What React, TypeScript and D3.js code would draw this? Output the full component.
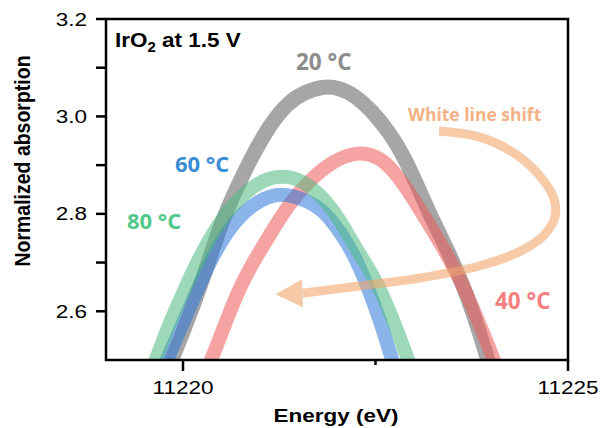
import React from "react";
import * as d3 from "d3";

// ---- axis configuration (data units) ----
const xDomain: [number, number] = [11219, 11225];
const yDomain: [number, number] = [2.5, 3.2];
const xMajorTicks = [11220, 11225];
const xMinorTicks = [11222.5];
const yMajorTicks = [2.6, 2.8, 3.0, 3.2];
const yMinorTicks = [2.7, 2.9, 3.1];

// ---- series (energy in eV, normalized absorption) ----
const energy20 = [11219.764, 11219.855, 11220.036, 11220.192, 11220.347, 11220.503, 11220.684, 11220.891, 11221.124, 11221.358, 11221.578, 11221.811, 11222.031, 11222.225, 11222.446, 11222.679, 11222.873, 11223.041, 11223.197, 11223.391, 11223.598, 11223.78, 11223.948, 11224.013];
const abs20 = [2.469, 2.5, 2.572, 2.637, 2.709, 2.783, 2.849, 2.917, 2.982, 3.028, 3.05, 3.062, 3.059, 3.044, 3.013, 2.968, 2.917, 2.859, 2.802, 2.74, 2.67, 2.592, 2.506, 2.469];

const energy40 = [11220.269, 11220.386, 11220.554, 11220.749, 11220.943, 11221.15, 11221.383, 11221.642, 11221.94, 11222.251, 11222.523, 11222.705, 11222.873, 11223.041, 11223.223, 11223.417, 11223.624, 11223.819, 11224.026, 11224.104];
const abs40 = [2.469, 2.506, 2.578, 2.654, 2.709, 2.763, 2.822, 2.869, 2.908, 2.928, 2.919, 2.894, 2.859, 2.818, 2.771, 2.72, 2.658, 2.586, 2.506, 2.469];

const energy60 = [11219.699, 11219.79, 11219.959, 11220.166, 11220.36, 11220.567, 11220.788, 11221.008, 11221.215, 11221.422, 11221.617, 11221.798, 11221.966, 11222.135, 11222.264, 11222.381, 11222.549, 11222.705, 11222.782];
const abs60 = [2.469, 2.5, 2.561, 2.637, 2.705, 2.763, 2.804, 2.829, 2.841, 2.838, 2.826, 2.81, 2.779, 2.74, 2.701, 2.658, 2.586, 2.506, 2.469];

const energy80 = [11219.57, 11219.648, 11219.803, 11219.997, 11220.205, 11220.425, 11220.671, 11220.93, 11221.189, 11221.448, 11221.668, 11221.85, 11222.031, 11222.199, 11222.368, 11222.536, 11222.731, 11222.912, 11222.99];
const abs80 = [2.469, 2.5, 2.568, 2.637, 2.709, 2.771, 2.824, 2.86, 2.878, 2.876, 2.855, 2.828, 2.789, 2.742, 2.699, 2.654, 2.582, 2.506, 2.469];

const seriesNames = ["20 °C", "40 °C", "60 °C", "80 °C"];

// ---- "White line shift" arrow path (data units) ----
const arrowEnergy = [11223.326, 11223.845, 11224.298, 11224.622, 11224.816, 11224.829, 11224.687, 11224.363, 11223.845, 11223.067, 11222.29, 11221.552];
const arrowAbs = [2.97, 2.958, 2.925, 2.88, 2.832, 2.793, 2.756, 2.722, 2.693, 2.668, 2.652, 2.637];
const arrowTip = [11221.202, 2.635];

const W = 600;
const H = 428;
const L = 106, R = 568, T = 19, B = 360;

const AXIS_FONT = "'Liberation Sans', Arial, sans-serif";
const LABEL_FONT = "'Open Sans', 'Noto Sans', sans-serif";

function zip(a: number[], b: number[]): [number, number][] {
  return a.map((v, i) => [v, b[i]] as [number, number]);
}

function SText(props: { x: number; y: number; sx?: number; anchor?: string; size: number; weight?: any; fill?: string; family?: string; children: any }) {
  const { x, y, sx = 1, anchor = "start", size, weight = "normal", fill = "#000", family = AXIS_FONT, children } = props;
  return (
    <text transform={`translate(${x},${y}) scale(${sx},1)`} textAnchor={anchor as any} fontSize={size} fontWeight={weight} fill={fill} fontFamily={family}>
      {children}
    </text>
  );
}

export default function App() {
  const x = d3.scaleLinear().domain(xDomain).range([L, R]);
  const y = d3.scaleLinear().domain(yDomain).range([B, T]);
  const line = d3
    .line<[number, number]>()
    .x((d) => x(d[0]))
    .y((d) => y(d[1]))
    .curve(d3.curveBasis);
  const arrowLine = d3
    .line<[number, number]>()
    .x((d) => x(d[0]))
    .y((d) => y(d[1]))
    .curve(d3.curveCatmullRom.alpha(0.5));

  const bands = [
    { name: seriesNames[0], data: zip(energy20, abs20), color: "#a6a6a6", op: 1, w: 15 },
    { name: seriesNames[1], data: zip(energy40, abs40), color: "#ed5858", op: 0.55, w: 14 },
    { name: seriesNames[2], data: zip(energy60, abs60), color: "#2a77d9", op: 0.55, w: 14 },
    { name: seriesNames[3], data: zip(energy80, abs80), color: "#4dba80", op: 0.55, w: 14 },
  ];

  const arrowPts = zip(arrowEnergy, arrowAbs);
  const last = arrowPts[arrowPts.length - 1];
  const bx = x(last[0]), by = y(last[1]);
  const tx = x(arrowTip[0]), ty = y(arrowTip[1]);
  const dx = tx - bx, dy = ty - by;
  const len = Math.hypot(dx, dy);
  const nx = -dy / len, ny = dx / len;
  const hw = 14;
  const head = `M${tx},${ty} L${bx + nx * hw},${by + ny * hw} L${bx - nx * hw},${by - ny * hw} Z`;

  return (
    <svg width={W} height={H} style={{ position: "absolute", left: 0, top: 0, background: "#fff" }}>
      <defs>
        <clipPath id="plot">
          <rect x={L} y={T} width={R - L} height={B - T} />
        </clipPath>
      </defs>
      <rect x={0} y={0} width={W} height={H} fill="#fff" />

      <g clipPath="url(#plot)">
        {bands.map((b) => (
          <path key={b.name} d={line(b.data) || ""} fill="none" stroke={b.color} strokeWidth={b.w} strokeOpacity={b.op} />
        ))}
        <g opacity={0.6}>
          <path d={arrowLine(arrowPts) || ""} fill="none" stroke="#f2a66e" strokeWidth={9} />
          <path d={head} fill="#f2a66e" />
        </g>
      </g>

      {/* frame */}
      <rect x={L} y={T} width={R - L} height={B - T} fill="none" stroke="#000" strokeWidth={2.5} />

      {/* y ticks */}
      {yMajorTicks.concat(yMinorTicks).map((t) => (
        <line key={"yt" + t} x1={L - 10} x2={L} y1={y(t)} y2={y(t)} stroke="#000" strokeWidth={2.5} />
      ))}
      {yMajorTicks.map((t) => (
        <SText key={"yl" + t} x={87} y={y(t) + 6.5} sx={1.25} anchor="end" size={18}>
          {t.toFixed(1)}
        </SText>
      ))}

      {/* x ticks */}
      {xMajorTicks.map((t) => (
        <line key={"xt" + t} x1={x(t)} x2={x(t)} y1={B} y2={B + 11} stroke="#000" strokeWidth={2.5} />
      ))}
      {xMinorTicks.map((t) => (
        <line key={"xm" + t} x1={x(t)} x2={x(t)} y1={B} y2={B + 5} stroke="#000" strokeWidth={2.5} />
      ))}
      {xMajorTicks.map((t) => (
        <SText key={"xl" + t} x={x(t)} y={394} sx={1.25} anchor="middle" size={18}>
          {t}
        </SText>
      ))}

      {/* axis titles */}
      <SText x={336} y={422} sx={1.25} anchor="middle" size={18} weight="bold">
        Energy (eV)
      </SText>
      <text transform="translate(30,161) rotate(-90) scale(1,1.15)" textAnchor="middle" fontSize={19.5} fontWeight="bold" fontFamily={AXIS_FONT}>
        Normalized absorption
      </text>

      {/* panel label */}
      <SText x={115} y={47} sx={1.07} size={21} weight="bold">
        IrO<tspan fontSize={14} dy={5}>2</tspan>
        <tspan dy={-5}> at 1.5 V</tspan>
      </SText>

      {/* series labels */}
      <SText x={296} y={70} size={22.5} weight="bold" fill="#8c8c8c" family={LABEL_FONT}>
        {seriesNames[0]}
      </SText>
      <SText x={175} y={172} size={22} weight="bold" fill="#3a8dd4" family={LABEL_FONT}>
        {seriesNames[2]}
      </SText>
      <SText x={127} y={229} size={22} weight="bold" fill="#52c98a" family={LABEL_FONT}>
        {seriesNames[3]}
      </SText>
      <SText x={495} y={309} size={22.5} weight="bold" fill="#f58080" family={LABEL_FONT}>
        {seriesNames[1]}
      </SText>
      <SText x={408} y={121} size={17.5} weight="bold" fill="#f4b183" family={LABEL_FONT}>
        White line shift
      </SText>
    </svg>
  );
}
